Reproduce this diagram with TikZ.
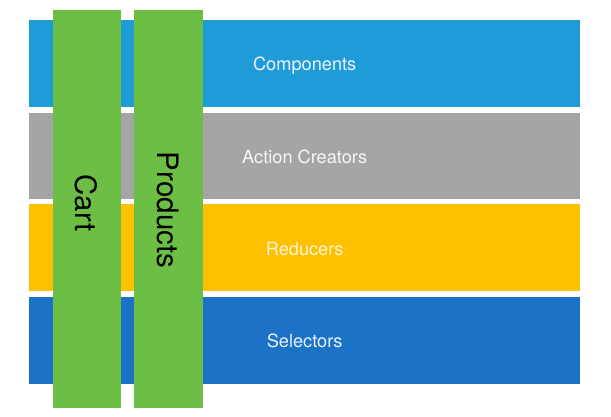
\documentclass[tikz,border=0pt]{standalone}
\usepackage{fontspec}
\setmainfont{TeX Gyre Heros}
\definecolor{bandblue}{HTML}{1F9CD8}
\definecolor{bandgray}{HTML}{A5A5A5}
\definecolor{bandyellow}{HTML}{FFC000}
\definecolor{banddark}{HTML}{1B72C6}
\definecolor{colgreen}{HTML}{6DBE45}
\begin{document}
\begin{tikzpicture}[x=1pt,y=1pt,
  band/.style={fill=#1,draw=none,minimum width=551pt,inner sep=0pt,anchor=north west,
    text depth=0pt,text=white!90!#1,font=\fontsize{18.2}{21}\selectfont},
  column/.style={fill=colgreen,draw=none,inner sep=0pt,anchor=north west,minimum height=398pt},
  collabel/.style={rotate=-90,text=black,font=\fontsize{29.5}{33}\selectfont,inner sep=0pt}]
\useasboundingbox (0,0) rectangle (611,-416);
\node[band=bandblue,minimum height=87pt] (comp) at (29,-20) {Components};
\node[band=bandgray,minimum height=86pt] (act) at (29,-113) {Action Creators};
\node[band=bandyellow,minimum height=87pt,text=white!85!bandyellow] (red) at (29,-204) {};
\node[text=white!85!bandyellow,font=\fontsize{18.2}{21}\selectfont,inner sep=0pt,text depth=0pt] (redl) at ([yshift=-1.5pt]red.center) {Reducers};
\node[band=banddark,minimum height=87pt] (sel) at (29,-297) {Selectors};
\node[column,minimum width=68pt] (cart) at (53,-10) {};
\node[column,minimum width=69pt] (prod) at (134,-10) {};
\node[collabel] (cartl) at (86,-203) {Cart};
\node[collabel] (prodl) at (168,-210) {Products};
\end{tikzpicture}
\end{document}
